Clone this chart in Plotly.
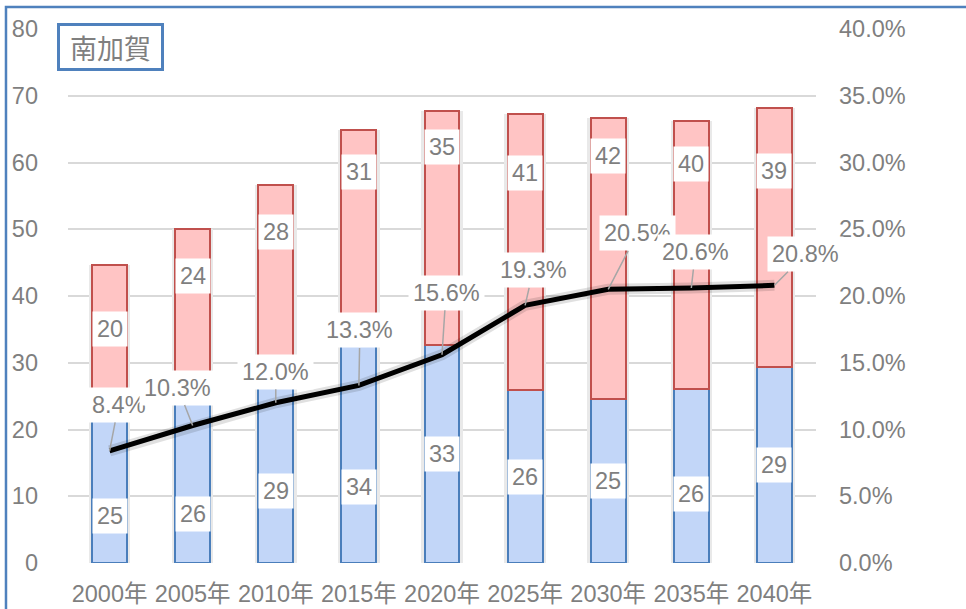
import plotly.graph_objects as go

# ---- data ----
categories = ["2000年", "2005年", "2010年", "2015年", "2020年", "2025年", "2030年", "2035年", "2040年"]
lower_values = [24.6, 25.9, 28.9, 33.6, 32.6, 25.9, 24.6, 26.1, 29.4]   # blue segment
upper_values = [20.0, 24.2, 27.7, 31.3, 35.1, 41.4, 42.1, 40.1, 38.8]   # red segment
ratio_pct = [8.4, 10.3, 12.0, 13.3, 15.6, 19.3, 20.5, 20.6, 20.8]       # line (right axis, %)
left_ticks = [0, 10, 20, 30, 40, 50, 60, 70, 80]
right_ticks = [0, 5, 10, 15, 20, 25, 30, 35, 40]
right_tick_labels = ["0.0%", "5.0%", "10.0%", "15.0%", "20.0%", "25.0%", "30.0%", "35.0%", "40.0%"]
title_text = "南加賀"

# ---- label placement (pixel offsets, style only) ----
lower_label_shift = [-35, -37, -24, -36, 0, 0, 0, -18, 0]
upper_label_shift = [3, 33, 46, 62, 81, 79, 102, 91, 66]
ratio_label_offset = [(9, -46), (-15, -38), (0, -31), (1, -55), (4, -62),
                      (8, -35), (29, -56), (4, -36), (31, -31)]

FONT = "Liberation Sans, Arial, Noto Sans CJK JP, sans-serif"
GRAY = "#7f7f7f"
FS = 23.5
totals = [a + b for a, b in zip(lower_values, upper_values)]

fig = go.Figure()

# bar shadow (main subplot, drawn first)
fig.add_trace(go.Bar(x=categories, y=totals, width=0.5, marker=dict(color="#e9e9e9", line=dict(width=0)),
                     hoverinfo="skip", showlegend=False, yaxis="y"))
# stacked bars on overlay axis y2
fig.add_trace(go.Bar(x=categories, y=lower_values, width=0.42, yaxis="y2",
                     marker=dict(color="#c2d6f8", line=dict(color="#4a7ebb", width=2)), showlegend=False))
fig.add_trace(go.Bar(x=categories, y=upper_values, width=0.42, yaxis="y2",
                     marker=dict(color="#ffc4c4", line=dict(color="#c0504d", width=2)), showlegend=False))
# line shadow + line on y3
fig.add_trace(go.Scatter(x=categories, y=ratio_pct, yaxis="y3", mode="lines",
                         line=dict(color="rgba(0,0,0,0.12)", width=11), hoverinfo="skip", showlegend=False))
fig.add_trace(go.Scatter(x=categories, y=ratio_pct, yaxis="y3", mode="lines",
                         line=dict(color="black", width=5), showlegend=False))

annotations = []
for i, c in enumerate(categories):
    annotations.append(dict(x=c, y=lower_values[i] / 2, xref="x", yref="y", text=f"{lower_values[i]:.0f}",
                            showarrow=False, yshift=lower_label_shift[i], bgcolor="white", borderpad=4,
                            font=dict(family=FONT, size=FS, color=GRAY)))
    annotations.append(dict(x=c, y=lower_values[i] + upper_values[i] / 2, xref="x", yref="y",
                            text=f"{upper_values[i]:.0f}", showarrow=False, yshift=upper_label_shift[i],
                            bgcolor="white", borderpad=4, font=dict(family=FONT, size=FS, color=GRAY)))
for i, c in enumerate(categories):
    ax, ay = ratio_label_offset[i]
    annotations.append(dict(x=c, y=ratio_pct[i], xref="x", yref="y3", text=f"{ratio_pct[i]:.1f}%",
                            showarrow=True, ax=ax, ay=ay, arrowhead=0, arrowwidth=1.5, arrowcolor="#a6a6a6",
                            standoff=0, bgcolor="white", borderpad=4,
                            font=dict(family=FONT, size=FS, color=GRAY)))
annotations.append(dict(x=0.0568, y=0.9663, xref="paper", yref="paper", text=title_text, showarrow=False,
                        xanchor="center", yanchor="middle", bgcolor="white", bordercolor="#4f81bd",
                        borderwidth=3, borderpad=0, width=101, height=42,
                        font=dict(family="Noto Sans CJK JP, sans-serif", size=27, color=GRAY)))

fig.update_layout(
    width=966, height=609,
    margin=dict(l=68, r=150, t=29, b=46),
    paper_bgcolor="white", plot_bgcolor="white",
    barmode="stack",
    font=dict(family=FONT, size=FS, color=GRAY),
    xaxis=dict(type="category", range=[-0.5, len(categories) - 0.5], autorange=False,
               showgrid=False, showline=False, ticks="", automargin=False,
               tickfont=dict(family=FONT, size=FS, color=GRAY), ticklabelstandoff=14),
    yaxis=dict(range=[0, 80], tickvals=left_ticks, showgrid=True, gridcolor="#d9d9d9", gridwidth=1.5,
               zeroline=False, showline=False, ticks="", ticklabelstandoff=29, automargin=False,
               tickfont=dict(family=FONT, size=FS, color=GRAY)),
    yaxis2=dict(range=[0, 80], overlaying="y", visible=False, automargin=False),
    yaxis3=dict(range=[0, 40], overlaying="y", side="right", tickvals=right_ticks, ticktext=right_tick_labels,
                showgrid=False, zeroline=False, showline=False, ticks="", automargin=False,
                ticklabelstandoff=22, tickfont=dict(family=FONT, size=FS, color=GRAY)),
    annotations=annotations,
    shapes=[dict(type="rect", xref="paper", yref="paper", x0=-0.0829, x1=1.4, y0=-0.3, y1=1.0412,
                 line=dict(color="#4f81bd", width=2.5), fillcolor="rgba(0,0,0,0)", layer="above")],
)

fig.write_html("out.html", config={"displayModeBar": False},
               post_script="document.body.style.margin='0';document.body.style.overflow='hidden';")
